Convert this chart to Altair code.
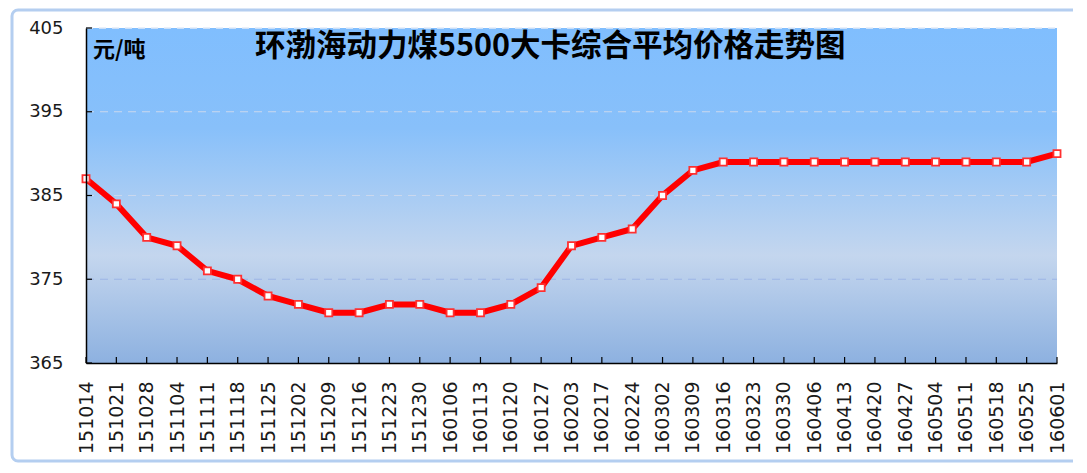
import altair as alt
import pandas as pd

dates = ["151014", "151021", "151028", "151104", "151111", "151118", "151125",
         "151202", "151209", "151216", "151223", "151230", "160106", "160113",
         "160120", "160127", "160203", "160217", "160224", "160302", "160309",
         "160316", "160323", "160330", "160406", "160413", "160420", "160427",
         "160504", "160511", "160518", "160525", "160601"]
prices = [387, 384, 380, 379, 376, 375, 373, 372, 371, 371, 372, 372, 371, 371,
          372, 374, 379, 380, 381, 385, 388, 389, 389, 389, 389, 389, 389, 389,
          389, 389, 389, 389, 390]
y_ticks = [365, 375, 385, 395, 405]
upper_grid = [385, 395]
lower_grid = [375]
top_grid = [405]
title_text = "环渤海动力煤5500大卡综合平均价格走势图"
unit_text = "元/吨"

W, H = 971, 335
df = pd.DataFrame({"date": dates, "price": prices})

xscale = alt.Scale(type="point", padding=0, domain=dates)
yscale = alt.Scale(domain=[365, 405], nice=False, zero=False)

xaxis = alt.Axis(labelAngle=270, labelAlign="right", labelBaseline="middle",
                 labelFont="DejaVu Sans", labelFontSize=19, labelColor="#1a1a1a",
                 labelPadding=18, ticks=False, domainColor="#000000",
                 domainWidth=1.5, grid=False, zindex=2, labelOverlap=False, title=None)
yaxis = alt.Axis(values=y_ticks, labelFont="DejaVu Sans", labelFontSize=18,
                 labelColor="#1a1a1a", labelPadding=23, ticks=False,
                 domainColor="#000000", domainWidth=1.5, grid=False, zindex=2, title=None)

bg = alt.Chart(alt.Data(values=[{"a": 1}])).mark_rect(
    fill=alt.Gradient(
        gradient="linear", x1=0, x2=0, y1=0, y2=1,
        stops=[
            alt.GradientStop(offset=0, color="#80BEFE"),
            alt.GradientStop(offset=0.3, color="#88C0FA"),
            alt.GradientStop(offset=0.68, color="#C4D6EE"),
            alt.GradientStop(offset=1, color="#8DB1E0"),
        ],
    ),
    stroke=None,
).encode(x=alt.value(0), x2=alt.value(W), y=alt.value(0), y2=alt.value(H))

frame = alt.Chart(alt.Data(values=[{"a": 1}])).mark_rect(
    filled=False, stroke="#B4CEF0", strokeWidth=3, cornerRadius=6
).encode(x=alt.value(-74), x2=alt.value(W + 40), y=alt.value(-18), y2=alt.value(H + 98))

grid_up = alt.Chart(pd.DataFrame({"price": upper_grid})).mark_rule(
    color="#CAD8EE", strokeWidth=1.2, strokeDash=[8, 6]
).encode(y=alt.Y("price:Q", scale=yscale, axis=yaxis), x=alt.value(0), x2=alt.value(W))

grid_low = alt.Chart(pd.DataFrame({"price": lower_grid})).mark_rule(
    color="#9CB5E6", strokeWidth=1.2, strokeDash=[8, 6]
).encode(y=alt.Y("price:Q", scale=yscale, axis=yaxis), x=alt.value(0), x2=alt.value(W))

grid_top = alt.Chart(pd.DataFrame({"price": top_grid})).mark_rule(
    color="#E4ECF8", strokeWidth=1.5, strokeDash=[7, 6]
).encode(y=alt.Y("price:Q", scale=yscale, axis=yaxis), x=alt.value(0), x2=alt.value(W))

line = alt.Chart(df).mark_line(color="#FF0000", strokeWidth=6).encode(
    x=alt.X("date:N", scale=xscale, sort=dates, axis=xaxis),
    y=alt.Y("price:Q", scale=yscale, axis=yaxis),
)

points = alt.Chart(df).mark_square(
    size=50, fill="white", stroke="#FF3030", strokeWidth=1.8, opacity=1
).encode(x=alt.X("date:N", scale=xscale, sort=dates, axis=xaxis),
         y=alt.Y("price:Q", scale=yscale, axis=yaxis))

xticks = alt.Chart(df).mark_rule(color="#000000", strokeWidth=1.2).encode(
    x=alt.X("date:N", scale=xscale, sort=dates, axis=xaxis), y=alt.value(H - 6), y2=alt.value(H))

yticks = alt.Chart(pd.DataFrame({"price": y_ticks})).mark_rule(color="#000000", strokeWidth=1.2).encode(
    y=alt.Y("price:Q", scale=yscale, axis=yaxis), x=alt.value(0), x2=alt.value(6))

title = alt.Chart(alt.Data(values=[{"t": title_text}])).mark_text(
    font="Noto Sans CJK SC", fontSize=30.5, fontWeight="bold", color="#000000",
    align="left", baseline="middle"
).encode(text="t:N", x=alt.value(169), y=alt.value(19))

unit = alt.Chart(alt.Data(values=[{"t": unit_text}])).mark_text(
    font="Noto Sans CJK SC", fontSize=22, fontWeight="bold", color="#000000",
    align="left", baseline="middle"
).encode(text="t:N", x=alt.value(7), y=alt.value(22))

chart = alt.layer(bg, grid_up, grid_low, grid_top, line, points, xticks, yticks, title, unit, frame).properties(
    width=W, height=H,
    autosize=alt.AutoSizeParams(type="none"),
    padding={"left": 78, "top": 20, "right": 16, "bottom": 100},
    background="white",
).configure_view(stroke=None)

chart.save("out.html", embed_options={"renderer": "svg", "actions": False})
